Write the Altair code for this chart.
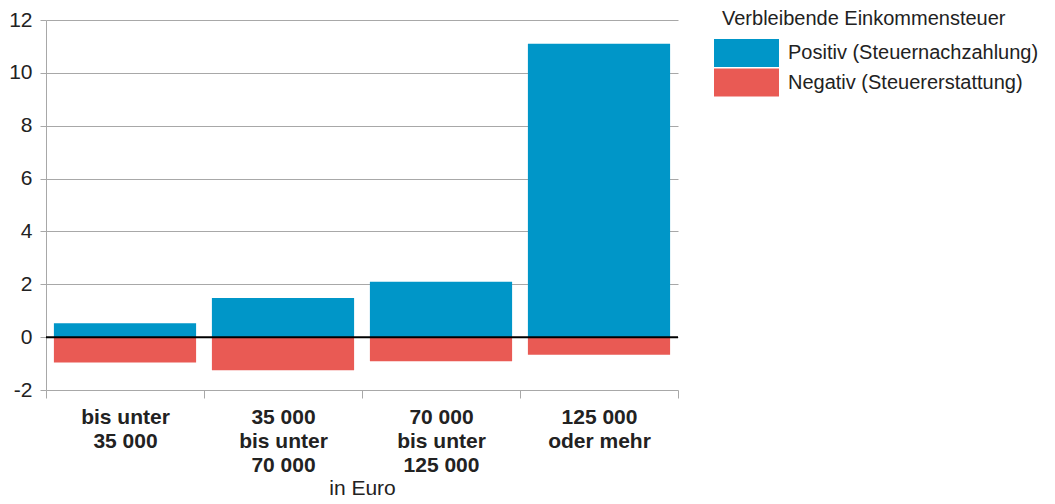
import altair as alt
import pandas as pd

categories = ["bis unter|35 000", "35 000|bis unter|70 000", "70 000|bis unter|125 000", "125 000|oder mehr"]
positiv = [0.53, 1.48, 2.10, 11.1]
negativ = [-0.96, -1.25, -0.91, -0.67]
series = ["Positiv (Steuernachzahlung)", "Negativ (Steuererstattung)"]
colors = ["#0096c8", "#e95a54"]
y_ticks = [-2, 0, 2, 4, 6, 8, 10, 12]

rows = []
for c, p, n in zip(categories, positiv, negativ):
    rows.append({"Gruppe": c, "Wert": p, "Serie": series[0], "o": 0})
    rows.append({"Gruppe": c, "Wert": n, "Serie": series[1], "o": 1})
df = pd.DataFrame(rows)

FONT = "Liberation Sans"
TXT = "#222222"
GRID = "#a8a8a8"

bars = alt.Chart(df).mark_bar(strokeWidth=0, width=alt.RelativeBandSize(0.9)).encode(
    x=alt.X("Gruppe:N", sort=categories,
            scale=alt.Scale(paddingInner=0, paddingOuter=0),
            axis=alt.Axis(title="in Euro", labelExpr="split(datum.label, '|')",
                          labelAngle=0, labelFontWeight="bold", labelFontSize=21,
                          labelLineHeight=24, labelBaseline="top", labelPadding=8,
                          labelColor=TXT, labelLimit=0, tickBand="extent", ticks=True,
                          tickSize=8, tickColor=GRID, domain=False, grid=False,
                          titleFontWeight="normal", titleFontSize=21, titleColor=TXT,
                          titlePadding=2, labelFont=FONT, titleFont=FONT)),
    y=alt.Y("Wert:Q", stack="zero", scale=alt.Scale(domain=[-2, 12], nice=False),
            axis=alt.Axis(values=y_ticks, title=None, labelFontSize=21, labelColor=TXT,
                          labelExpr="'' + datum.value",
                          labelFont=FONT, gridColor=GRID, domainColor=GRID,
                          tickColor=GRID, tickSize=6, labelPadding=8)),
    color=alt.Color("Serie:N", sort=series,
                    scale=alt.Scale(domain=series, range=colors),
                    legend=alt.Legend(title="Verbleibende Einkommensteuer", orient="none",
                                      legendX=676, legendY=-11,
                                      titleFontSize=20, titleFontWeight="normal",
                                      titleColor=TXT, titleFont=FONT, titlePadding=10,
                                      titleLimit=0, labelLimit=0,
                                      labelFontSize=20, labelColor=TXT, labelFont=FONT,
                                      symbolType="M-1.571,-1H3.071V1H-1.571Z", symbolSize=784,
                                      symbolStrokeWidth=0, symbolOpacity=1,
                                      labelOffset=38, rowPadding=1.5)),
    order=alt.Order("o:Q"),
)

zero = alt.Chart(pd.DataFrame({"y": [0]})).mark_rule(color="black", strokeWidth=2).encode(
    y="y:Q"
)

chart = alt.layer(bars, zero).properties(
    width=632, height=370,
    padding={"left": 0, "top": 1, "right": 0, "bottom": 0},
).configure_view(stroke=None).configure_axis(labelFont=FONT, titleFont=FONT)

chart.save("out.html", embed_options={"renderer": "svg", "actions": False})
